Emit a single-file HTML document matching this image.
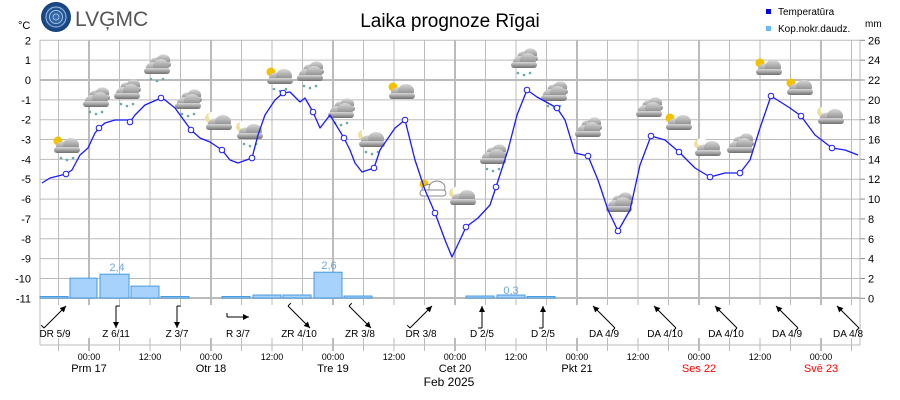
<!DOCTYPE html>
<html><head><meta charset="utf-8"><style>
body{margin:0;background:#fff;}
svg{display:block;font-family:"Liberation Sans",sans-serif;}
</style></head><body>
<svg id="s" width="900" height="400" xmlns="http://www.w3.org/2000/svg">
<defs>
<linearGradient id="cg" x1="0" y1="0" x2="0" y2="1"><stop offset="0" stop-color="#d8d8d8"/><stop offset="1" stop-color="#6f6f6f"/></linearGradient>
<radialGradient id="lg"><stop offset="0" stop-color="#3a6fb0"/><stop offset="1" stop-color="#14407a"/></radialGradient>
<g id="cl"><ellipse cx="-4" cy="0" rx="7" ry="5.5" fill="url(#cg)"/><ellipse cx="4" cy="-2" rx="8" ry="7" fill="url(#cg)"/><rect x="-13" y="0" width="26" height="6" rx="3" fill="url(#cg)"/></g>
<g id="sn"><circle cx="-6" cy="11" r="1.3" fill="#6aa"/><circle cx="0" cy="13" r="1.3" fill="#6aa"/><circle cx="6" cy="11" r="1.3" fill="#6aa"/></g>
<g id="sun"><circle cx="-9" cy="-6" r="4.5" fill="#f2c200"/></g>
<g id="moon"><circle cx="-9" cy="-6" r="5" fill="#efe0a0"/><circle cx="-6" cy="-8" r="4.5" fill="#fff"/></g>
</defs>
<circle cx="56" cy="17" r="15" fill="url(#lg)"/>
<circle cx="56" cy="17" r="10" fill="none" stroke="#9fc0e8" stroke-width="1"/><circle cx="56" cy="17" r="6.5" fill="none" stroke="#9fc0e8" stroke-width="1"/><circle cx="56" cy="17" r="3" fill="none" stroke="#9fc0e8" stroke-width="1"/>
<text x="75" y="26" font-size="21" fill="#555">LVĢMC</text>
<text x="18" y="29" font-size="11" fill="#000">°C</text>
<text x="450" y="27" font-size="19" text-anchor="middle">Laika prognoze Rīgai</text>
<rect x="766" y="9" width="5" height="5" fill="#0000ee"/><text x="778" y="15" font-size="10">Temperatūra</text>
<rect x="766" y="26" width="5" height="5" fill="#66b8ff"/><text x="778" y="32" font-size="10">Kop.nokr.daudz.</text>
<text x="865" y="27" font-size="10">mm</text>
<g id="g"></g>
</svg>
<script>
var g=document.getElementById('g'),h='';
var L=40,R=860,T=40,B=298;
function y(t){return 80-19.846*t;}
for(var t=2;t>=-11;t--){var yy=y(t);h+='<line x1="'+L+'" x2="'+R+'" y1="'+yy+'" y2="'+yy+'" stroke="#bbb" stroke-width="'+(t==0?2:1)+'"/>';
h+='<text x="31" y="'+(yy+4)+'" font-size="11" text-anchor="end">'+t+'</text>';
var mm=(t+11)*2;h+='<line x1="'+R+'" x2="'+(R+5)+'" y1="'+yy+'" y2="'+yy+'" stroke="#888"/><text x="868" y="'+(yy+4)+'" font-size="11">'+mm+'</text>';}
for(var k=-1;k<=25;k++){var x=89+k*30.5;if(x<L||x>R)continue;var th=(k%4==0);
h+='<line x1="'+x+'" x2="'+x+'" y1="'+T+'" y2="'+B+'" stroke="#bbb" stroke-width="'+(th?2:1)+'"/>';
h+='<line x1="'+x+'" x2="'+x+'" y1="'+(B-0)+'" y2="'+(B+7)+'" stroke="#bbb" stroke-width="'+(th?2:1)+'"/>';
h+='<line x1="'+x+'" x2="'+x+'" y1="'+(338)+'" y2="'+(351)+'" stroke="#bbb" stroke-width="'+(th?2:1)+'"/>';}
h+='<line x1="'+L+'" x2="'+L+'" y1="'+T+'" y2="345" stroke="#bbb"/><line x1="'+R+'" x2="'+R+'" y1="'+T+'" y2="345" stroke="#bbb"/>';
h+='<line x1="'+L+'" x2="'+R+'" y1="'+B+'" y2="'+B+'" stroke="#bbb" stroke-width="2"/><line x1="'+L+'" x2="'+R+'" y1="345" y2="345" stroke="#bbb"/>';
var bars=[[40,68,0.1],[70,97,2.0],[100,129,2.4],[131,159,1.2],[161,189,0.1],[222,250,0.1],[253,281,0.3],[283,311,0.3],[314,342,2.6],[344,372,0.2],[466,494,0.2],[497,525,0.3],[527,555,0.1]];
bars.forEach(function(b){var hh=Math.max(b[2]*9.92,1.5);h+='<rect x="'+b[0]+'" y="'+(B-hh)+'" width="'+(b[1]-b[0])+'" height="'+hh+'" fill="#a6d2fb" stroke="#4a9ae0" stroke-width="1"/>';});
h+='<text x="117" y="271" font-size="11" fill="#6fa8dc" text-anchor="middle">2,4</text><text x="329" y="269" font-size="11" fill="#6fa8dc" text-anchor="middle">2,6</text><text x="511" y="294" font-size="11" fill="#6fa8dc" text-anchor="middle">0,3</text>';
var ic=[[67,147,'sun','s'],[96,101,'2','s'],[127,93,'2','s'],[157,68,'2','s'],[188,103,'2','s'],[219,124,'moon',''],[250,133,'moon','s'],[280,78,'sun','s'],[310,75,'2','s'],[341,112,'2','s'],[372,141,'moon','s'],[402,93,'sun',''],[433,190,'sunw',''],[463,199,'moon',''],[493,158,'2','s'],[524,62,'2','s'],[554,95,'2','s'],[588,131,'2',''],[619,206,'2',''],[649,111,'2',''],[679,124,'sun',''],[708,150,'moon',''],[740,147,'2',''],[769,69,'sun',''],[800,89,'sun',''],[831,118,'moon','']];
ic.forEach(function(c){var s='<g transform="translate('+c[0]+','+c[1]+')">';
if(c[2]=='sun'||c[2]=='sunw')s+='<use href="#sun"/>';if(c[2]=='moon')s+='<use href="#moon"/>';
if(c[2]=='2')s+='<g transform="translate(3,-6) scale(0.85)"><use href="#cl"/></g>';
if(c[2]=='sunw')s+='<g><ellipse cx="-4" cy="0" rx="7" ry="5.5" fill="#fff" stroke="#888"/><ellipse cx="4" cy="-2" rx="8" ry="7" fill="#fff" stroke="#888"/><rect x="-13" y="0" width="26" height="6" rx="3" fill="#fff" stroke="#888"/></g>';
else s+='<use href="#cl"/>';
if(c[3])s+='<use href="#sn"/>';h+=s+'</g>';});
var p=[[42,183],[50,178],[58,176],[66,174],[72,170],[80,155],[88,148],[95,133],[99,128],[105,123],[115,120],[128,120],[130,122],[135,115],[145,105],[161,98],[165,100],[175,108],[191,130],[200,138],[210,142],[222,150],[230,160],[238,163],[252,158],[258,135],[265,115],[275,100],[283,93],[290,92],[300,102],[305,98],[313,112],[320,128],[330,115],[344,138],[350,150],[355,163],[362,172],[374,168],[380,150],[395,128],[405,120],[415,160],[425,190],[435,213],[445,240],[452,257],[460,240],[466,227],[478,218],[490,205],[496,187],[508,150],[517,115],[527,90],[537,97],[557,108],[565,120],[575,153],[588,156],[598,180],[608,210],[618,231],[630,210],[640,165],[651,136],[665,140],[679,152],[695,168],[710,177],[725,173],[740,173],[750,160],[760,128],[771,96],[790,108],[801,116],[815,135],[832,148],[845,150],[858,155]];
h+='<polyline fill="none" stroke="#1a1aff" stroke-width="1.3" stroke-linejoin="round" points="'+p.map(function(q){return q.join(',')}).join(' ')+'"/>';
[66,99,130,161,191,222,252,283,313,344,374,405,435,466,496,527,557,588,618,649,679,710,740,771,801,832].forEach(function(x){var q=p.reduce(function(a,b){return Math.abs(b[0]-x)<Math.abs(a[0]-x)?b:a});h+='<circle cx="'+q[0]+'" cy="'+q[1]+'" r="2.8" fill="#fff" stroke="#1a1aff"/>';});
var w=[['DR 5/9',45],['Z 6/11',0],['Z 3/7',0],['R 3/7',90],['ZR 4/10',135],['ZR 3/8',135],['DR 3/8',45],['D 2/5',-90],['D 2/5',-90],['DA 4/9',-135],['DA 4/10',-135],['DA 4/10',-135],['DA 4/9',-135],['DA 4/8',-135]];
var ang={'45':[-1,1,1,-1],'0':[0,-1,0,1],'90':[-1,0,1,0],'135':[-1,-1,1,1],'-90':[0,1,0,-1],'-135':[1,1,-1,-1]};
w.forEach(function(v,i){var cx=55+i*61,cy=317,a=ang[v[1]],r=11;var x1=cx+a[0]*r,y1=cy+a[1]*r,x2=cx+a[2]*r,y2=cy+a[3]*r;
var dx=x2-x1,dy=y2-y1,l=Math.hypot(dx,dy);dx/=l;dy/=l;
h+='<line x1="'+x1+'" y1="'+y1+'" x2="'+x2+'" y2="'+y2+'" stroke="#000"/>';
h+='<polygon points="'+x2+','+y2+' '+(x2-dx*6-dy*3)+','+(y2-dy*6+dx*3)+' '+(x2-dx*6+dy*3)+','+(y2-dy*6-dx*3)+'" fill="#000"/>';
h+='<line x1="'+x1+'" y1="'+y1+'" x2="'+(x1+dy*4)+'" y2="'+(y1-dx*4)+'" stroke="#000"/>';
h+='<text x="'+cx+'" y="337" font-size="10" text-anchor="middle">'+v[0]+'</text>';});
var days=['Prm 17','Otr 18','Tre 19','Cet 20','Pkt 21','Ses 22','Svē 23'];
days.forEach(function(d,i){var x=89+i*122;h+='<text x="'+x+'" y="360" font-size="9" text-anchor="middle">00:00</text><text x="'+x+'" y="372" font-size="11" text-anchor="middle" fill="'+(i>=5?'#f00':'#000')+'">'+d+'</text>';
if(i<6)h+='<text x="'+(x+61)+'" y="360" font-size="9" text-anchor="middle">12:00</text>';});
h+='<text x="449" y="386" font-size="12" text-anchor="middle">Feb 2025</text>';
g.innerHTML=h;
</script>
</body></html>
